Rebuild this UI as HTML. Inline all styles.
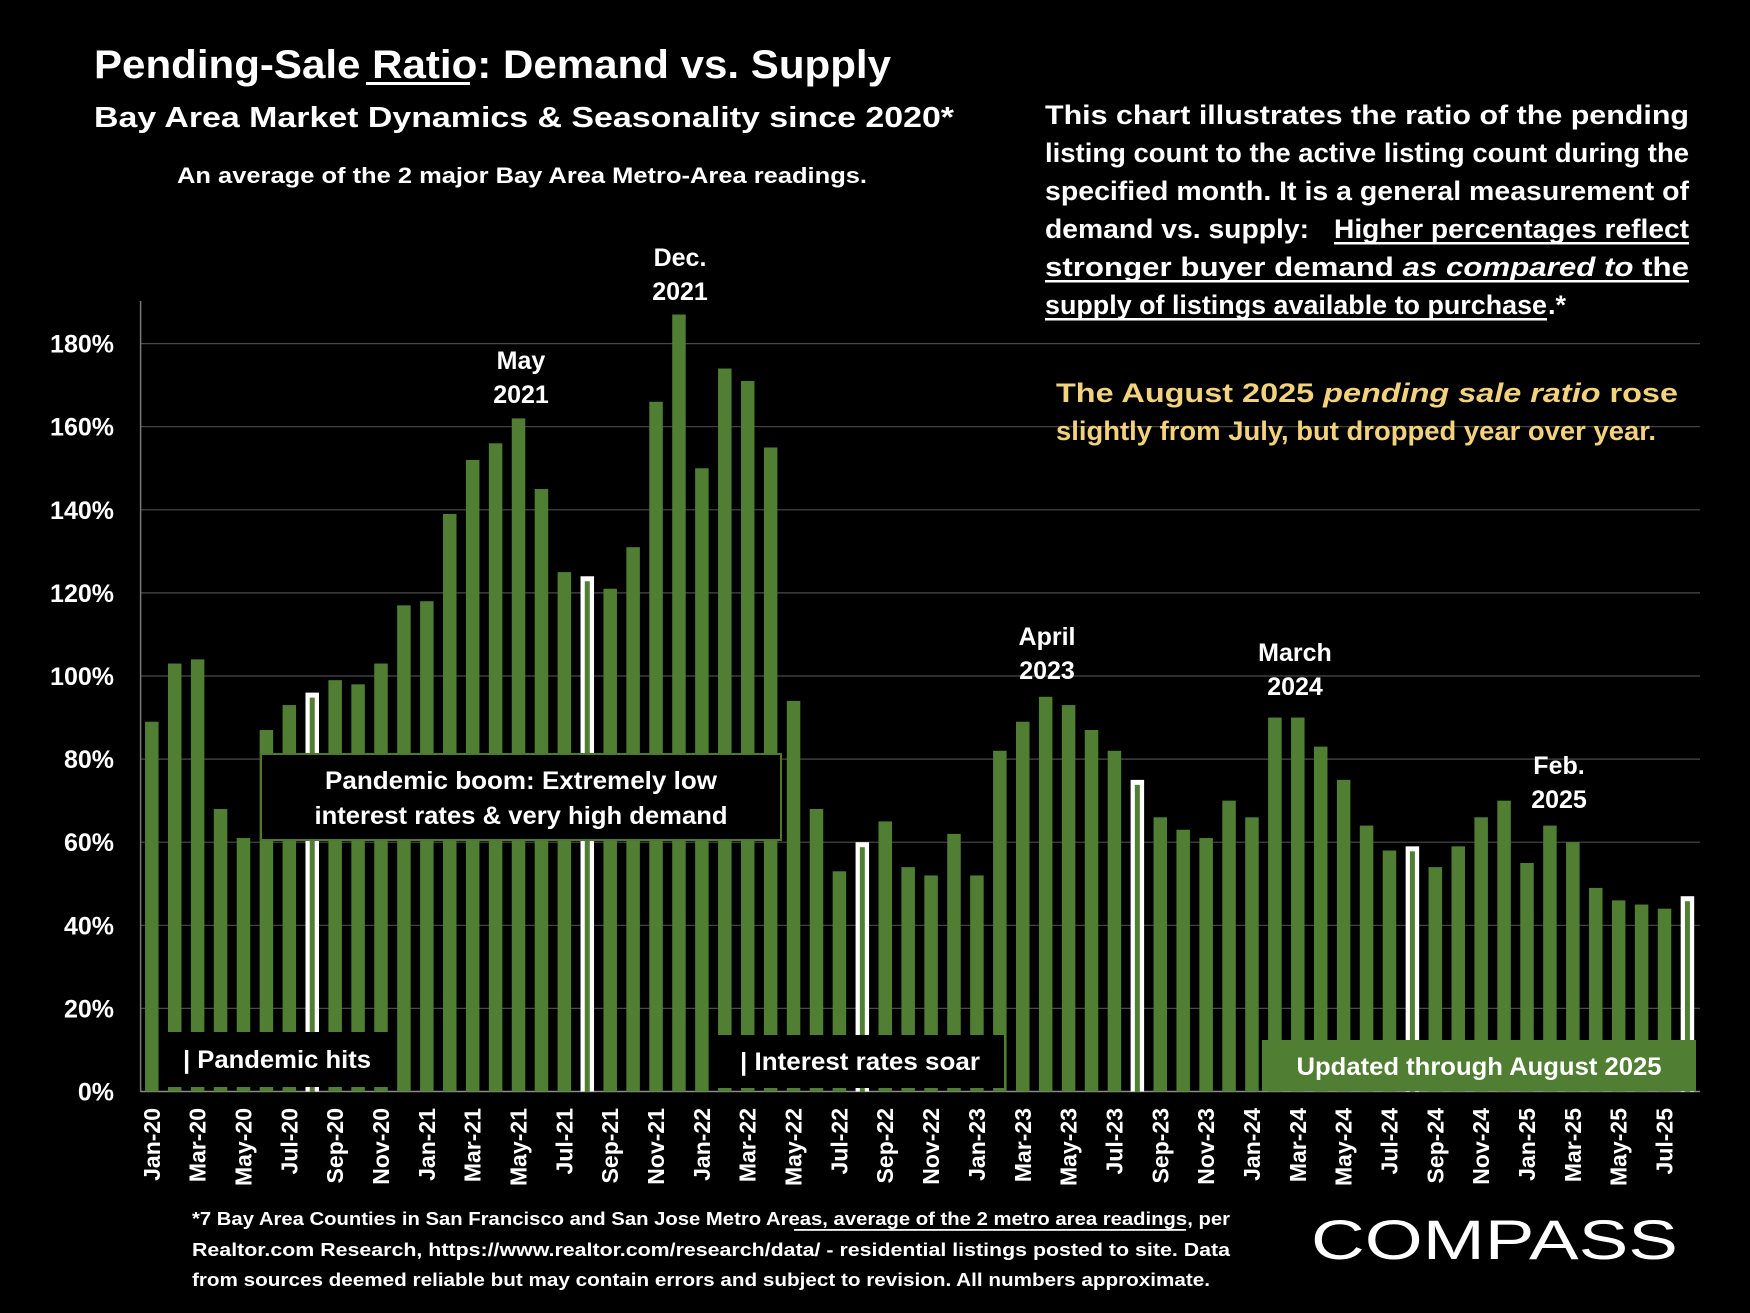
<!DOCTYPE html>
<html><head><meta charset="utf-8"><style>
html,body{margin:0;padding:0;background:#000;}
svg{display:block;font-family:"Liberation Sans",sans-serif;font-weight:bold;}
</style></head><body>
<svg id="chart" width="1750" height="1313" viewBox="0 0 1750 1313" xmlns="http://www.w3.org/2000/svg">
<rect width="1750" height="1313" fill="#000"/>
<g id="grid"></g>
<line x1="140.6" y1="301" x2="140.6" y2="1092" stroke="#7a7a7a" stroke-width="1.5"/>
<g id="ylabels"></g>
<g id="bars"></g>
<g id="xlabels"></g>

<!-- annotation boxes -->
<g>
<rect x="163" y="1032" width="230" height="55" fill="#000"/>
<text x="183" y="1068" fill="#fff" font-size="25" textLength="188" lengthAdjust="spacingAndGlyphs">| Pandemic hits</text>
</g>
<g>
<rect x="261" y="754" width="520" height="86" fill="#000" stroke="#4f7a2e" stroke-width="2"/>
<text x="521" y="789" fill="#fff" font-size="25" text-anchor="middle" textLength="392" lengthAdjust="spacingAndGlyphs">Pandemic boom: Extremely low</text>
<text x="521" y="824" fill="#fff" font-size="25" text-anchor="middle" textLength="413" lengthAdjust="spacingAndGlyphs">interest rates &amp; very high demand</text>
</g>
<g>
<rect x="718" y="1035" width="286" height="53" fill="#000"/>
<text x="740" y="1070" fill="#fff" font-size="25" textLength="240" lengthAdjust="spacingAndGlyphs">| Interest rates soar</text>
</g>
<g>
<rect x="1262" y="1040" width="434" height="51" fill="#507e32"/>
<text x="1479" y="1075" fill="#fff" font-size="25" text-anchor="middle" textLength="365" lengthAdjust="spacingAndGlyphs">Updated through August 2025</text>
</g>

<!-- peak annotations -->
<g fill="#fff" font-size="25" text-anchor="middle">
<text x="680" y="266">Dec.</text><text x="680" y="300">2021</text>
<text x="521" y="369">May</text><text x="521" y="403">2021</text>
<text x="1047" y="645">April</text><text x="1047" y="679">2023</text>
<text x="1295" y="661">March</text><text x="1295" y="695">2024</text>
<text x="1559" y="774">Feb.</text><text x="1559" y="808">2025</text>
</g>

<!-- titles -->
<text x="94" y="78" fill="#fff" font-size="40" textLength="797" lengthAdjust="spacingAndGlyphs">Pending-Sale Ratio:  Demand vs. Supply</text>
<rect x="366" y="82" width="104" height="3" fill="#fff"/>
<text x="94" y="127" fill="#fff" font-size="29" textLength="860" lengthAdjust="spacingAndGlyphs">Bay Area Market Dynamics &amp; Seasonality since 2020*</text>
<text x="522" y="183" fill="#fff" font-size="22" text-anchor="middle" textLength="690" lengthAdjust="spacingAndGlyphs">An average of the 2 major Bay Area Metro-Area readings.</text>

<!-- explanation -->
<g fill="#fff" font-size="27">
<text x="1045" y="124" textLength="644" lengthAdjust="spacingAndGlyphs">This chart illustrates the ratio of the pending</text>
<text x="1045" y="162" textLength="644" lengthAdjust="spacingAndGlyphs">listing count to the active listing count during the</text>
<text x="1045" y="200" textLength="644" lengthAdjust="spacingAndGlyphs">specified month. It is a general measurement of</text>
<text x="1045" y="238" textLength="264" lengthAdjust="spacingAndGlyphs">demand vs. supply:</text>
<text x="1334" y="238" textLength="355" lengthAdjust="spacingAndGlyphs">Higher percentages reflect</text>
<text x="1045" y="276" textLength="644" lengthAdjust="spacingAndGlyphs">stronger buyer demand <tspan font-style="italic">as compared to</tspan> the</text>
<text x="1045" y="314" textLength="502" lengthAdjust="spacingAndGlyphs">supply of listings available to purchase</text>
<text x="1548" y="314">.*</text>
<rect x="1334" y="242" width="355" height="2.5"/>
<rect x="1045" y="280" width="644" height="2.5"/>
<rect x="1045" y="318" width="502" height="2.5"/>
</g>
<g fill="#f2d27a" font-size="27">
<text x="1056" y="402" textLength="622" lengthAdjust="spacingAndGlyphs">The August 2025 <tspan font-style="italic">pending sale ratio</tspan> rose</text>
<text x="1056" y="440" textLength="600" lengthAdjust="spacingAndGlyphs">slightly from July, but dropped year over year.</text>
</g>

<!-- footer -->
<g fill="#fff" font-size="18">
<text x="192" y="1225" textLength="1038" lengthAdjust="spacingAndGlyphs">*7 Bay Area Counties in San Francisco and San Jose Metro Areas, average of the 2 metro area readings, per</text>
<text x="192" y="1256" textLength="1038" lengthAdjust="spacingAndGlyphs">Realtor.com Research, https://www.realtor.com/research/data/ - residential listings posted to site.  Data</text>
<text x="192" y="1286" textLength="1018" lengthAdjust="spacingAndGlyphs">from sources deemed reliable but may contain errors and subject to revision. All numbers approximate.</text>
<rect x="794" y="1229" width="392" height="1.8"/>
</g>
<text x="1311" y="1259" fill="#fff" font-size="56" font-weight="normal" textLength="367" lengthAdjust="spacingAndGlyphs">COMPASS</text>

<script>
const categories = ["Jan-20","Feb-20","Mar-20","Apr-20","May-20","Jun-20","Jul-20","Aug-20","Sep-20","Oct-20","Nov-20","Dec-20",
"Jan-21","Feb-21","Mar-21","Apr-21","May-21","Jun-21","Jul-21","Aug-21","Sep-21","Oct-21","Nov-21","Dec-21",
"Jan-22","Feb-22","Mar-22","Apr-22","May-22","Jun-22","Jul-22","Aug-22","Sep-22","Oct-22","Nov-22","Dec-22",
"Jan-23","Feb-23","Mar-23","Apr-23","May-23","Jun-23","Jul-23","Aug-23","Sep-23","Oct-23","Nov-23","Dec-23",
"Jan-24","Feb-24","Mar-24","Apr-24","May-24","Jun-24","Jul-24","Aug-24","Sep-24","Oct-24","Nov-24","Dec-24",
"Jan-25","Feb-25","Mar-25","Apr-25","May-25","Jun-25","Jul-25","Aug-25"];
const ratioValues = [89,103,104,68,61,87,93,96,99,98,103,117,
118,139,152,156,162,145,125,124,121,131,166,187,
150,174,171,155,94,68,53,60,65,54,52,62,
52,82,89,95,93,87,82,75,66,63,61,70,
66,90,90,83,75,64,58,59,54,59,66,70,
55,64,60,49,46,45,44,47];
const highlightMonths = ["Aug-20","Aug-21","Aug-22","Aug-23","Aug-24","Aug-25"];
const yTicks = [0,20,40,60,80,100,120,140,160,180];

const NS = "http://www.w3.org/2000/svg";
const y0 = 1091.5, pxPerPct = 4.155, x0 = 151.8, step = 22.92, bw = 13.5;
function yScale(v){ return y0 - v * pxPerPct; }
function xScale(i){ return x0 + i * step; }
function mk(tag, attrs){ const e = document.createElementNS(NS, tag); for (const k in attrs) e.setAttribute(k, attrs[k]); return e; }

const grid = document.getElementById('grid'), yl = document.getElementById('ylabels');
yTicks.forEach(t => {
  const ln = mk('line', {x1:140.6, x2:1700, y1:yScale(t), y2:yScale(t), stroke: t===0 ? '#8a8a8a' : '#4a4a4a', 'stroke-width': t===0 ? 1.5 : 1.2});
  
  
  grid.appendChild(ln);
  const tx = mk('text', {x:114, y:yScale(t)+9, fill:'#fff', 'font-size':25, 'text-anchor':'end'});
  tx.textContent = t + '%';
  
  
  yl.appendChild(tx);
});

const bars = document.getElementById('bars'), xl = document.getElementById('xlabels');
categories.forEach((c, i) => {
  const v = ratioValues[i], cx = xScale(i), top = yScale(v);
  const hl = highlightMonths.includes(c);
  const r = mk('rect', {x:cx-bw/2, y:top, width:bw, height:y0-top, fill: hl ? '#ffffff' : '#507e32'});
  
  
  bars.appendChild(r);
  if (hl) {
    const inner = mk('rect', {x:cx-2.5, y:top+5, width:5, height:y0-top-5, fill:'#507e32'});
    
    
    bars.appendChild(inner);
  }
  if (i % 2 === 0) {
    const t = mk('text', {x:0, y:0, fill:'#fff', 'font-size':23, 'text-anchor':'end', transform:`translate(${cx+8},1108) rotate(-90)`});
    t.textContent = c;
    
    
    xl.appendChild(t);
  }
});
</script>
</svg>
</body></html>
